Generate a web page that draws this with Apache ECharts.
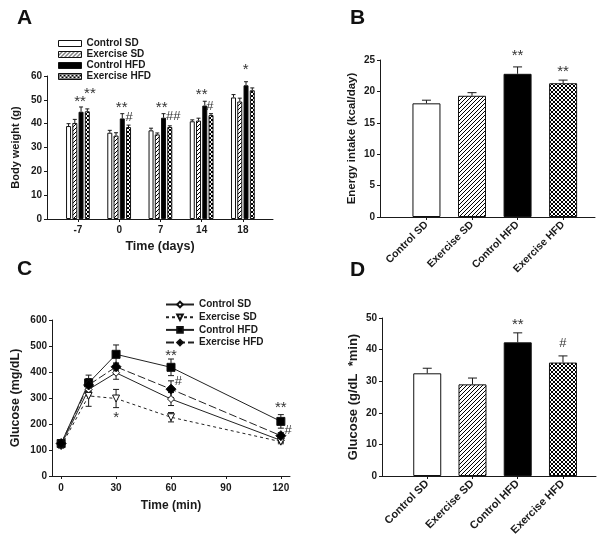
<!DOCTYPE html>
<html>
<head>
<meta charset="utf-8">
<title>Body weight, energy intake and glucose tolerance</title>
<script src="https://cdn.jsdelivr.net/npm/echarts@6/dist/echarts.min.js"></script>
<style>
html, body { margin: 0; padding: 0; background: #fff; }
#main { width: 600px; height: 542px; }
</style>
</head>
<body>
<div id="main"></div>
<script>
// groups
var groups = ['Control SD', 'Exercise SD', 'Control HFD', 'Exercise HFD'];

// A - body weight (g)
var dayLabels = ['-7', '0', '7', '14', '18'];
var bwCtrlSD = [39, 36.2, 37.2, 41, 51];
var bwExSD = [40.3, 35, 35.5, 41.3, 49.3];
var bwCtrlHFD = [45, 42.2, 42.5, 47.6, 56.1];
var bwExHFD = [45.2, 38.6, 38.6, 43.6, 54];
var bwErrCtrlSD = [1, 1, 0.9, 0.6, 1.2];
var bwErrExSD = [1.5, 1.2, 0.6, 1, 1.4];
var bwErrCtrlHFD = [2, 2, 1.7, 1.8, 1.5];
var bwErrExHFD = [1, 0.8, 0.5, 0.6, 1];
var marksA = [[0.05, 50.4, '**'], [0.29, 53.7, '**'], [1.06, 47.8, '**'], [1.24, 42.7, '#'],
              [2.03, 47.8, '**'], [2.31, 42.9, '##'], [3.0, 53.2, '**'], [3.2, 47.1, '#'], [4.07, 63.9, '*']];

// B - energy intake (kcal/day)
var energy = [18.1, 19.3, 22.8, 21.3];
var energyErr = [0.5, 0.5, 1.1, 0.5];
var marksB = [[2, 26.1, '**'], [3, 23.6, '**']];

// C - glucose tolerance (mg/dL)
var times = [0, 15, 30, 60, 120];
var gluCtrlSD = [120, 333, 397, 296, 137];
var gluExSD = [115, 308, 298, 226, 132];
var gluCtrlHFD = [125, 358, 468, 418, 210];
var gluExHFD = [125, 350, 420, 334, 155];
var gluErrCtrlSD = [8, 25, 25, 25, 8];
var gluErrExSD = [8, 40, 35, 18, 8];
var gluErrCtrlHFD = [8, 30, 36, 32, 26];
var gluErrExHFD = [8, 25, 15, 32, 12];
var marksC = [[30, 235, '*'], [60, 475, '**'], [64, 362, '#'], [120, 272, '**'], [124, 176, '#']];
var timeTicks = [0, 30, 60, 90, 120];

// D - glucose AUC (g/dL*min)
var auc = [32.5, 29.0, 42.3, 35.9];
var aucErr = [1.6, 2.0, 3.0, 2.1];
var marksD = [[2, 48.9, '**'], [3, 41.8, '#']];

var FONT = 'Liberation Sans, Arial, sans-serif';
var INK = '#1a1a1a';

// fill patterns
function pattern(kind, size) {
  var c = document.createElement('canvas');
  c.width = c.height = size;
  var g = c.getContext('2d');
  g.fillStyle = '#fff';
  g.fillRect(0, 0, size, size);
  g.strokeStyle = '#000';
  g.lineWidth = 1;
  g.beginPath();
  g.moveTo(0, size); g.lineTo(size, 0);
  g.moveTo(-1, 1); g.lineTo(1, -1);
  g.moveTo(size - 1, size + 1); g.lineTo(size + 1, size - 1);
  if (kind === 'cross') {
    g.moveTo(0, 0); g.lineTo(size, size);
    g.moveTo(size - 1, -1); g.lineTo(size + 1, 1);
    g.moveTo(-1, size - 1); g.lineTo(1, size + 1);
  }
  g.stroke();
  return { image: c, repeat: 'repeat' };
}
var fills = ['#fff', pattern('diag', 4), '#000', pattern('cross', 4)];

function errBar(offset, cap, both) {
  return function (params, api) {
    var x = api.value(0), v = api.value(1), e = api.value(2);
    var hi = api.coord([x, v + e]);
    var lo = both ? api.coord([x, v - e]) : api.coord([x, v]);
    var cx = hi[0] + offset;
    var st = { stroke: INK, lineWidth: 1 };
    var kids = [
      { type: 'line', shape: { x1: cx, y1: lo[1], x2: cx, y2: hi[1] }, style: st },
      { type: 'line', shape: { x1: cx - cap / 2, y1: hi[1], x2: cx + cap / 2, y2: hi[1] }, style: st }
    ];
    if (both) kids.push({ type: 'line', shape: { x1: cx - cap / 2, y1: lo[1], x2: cx + cap / 2, y2: lo[1] }, style: st });
    return { type: 'group', children: kids };
  };
}

function marks(src) {
  return function (params, api) {
    var p = api.coord([api.value(0), api.value(1)]);
    var t = src[params.dataIndex][2];
    var star = t.indexOf('*') >= 0;
    return {
      type: 'text',
      style: {
        text: t, x: p[0], y: p[1] + (star ? 3 : 0),
        textAlign: 'center', textVerticalAlign: 'middle',
        font: (star ? '15px ' : '13px ') + FONT, fill: '#333'
      }
    };
  };
}

function pts(xs, ys, es) {
  return xs.map(function (x, i) { return es ? [x, ys[i], es[i]] : [x, ys[i]]; });
}

var tickLabel = { color: INK, fontFamily: FONT, fontWeight: 'bold', fontSize: 10 };
var nameStyle = { color: INK, fontFamily: FONT, fontWeight: 'bold', fontSize: 12 };
var lineAx = { show: true, onZero: false, lineStyle: { color: INK, width: 1 } };
var tickAx = { show: true, length: 3, lineStyle: { color: INK } };

function valueY(idx, max, step, name, gap, nsize) {
  return {
    type: 'value', gridIndex: idx, min: 0, max: max, interval: step,
    name: name, nameLocation: 'middle', nameGap: gap,
    nameTextStyle: Object.assign({}, nameStyle, { fontSize: nsize }),
    axisLine: lineAx, axisTick: tickAx, splitLine: { show: false },
    axisLabel: Object.assign({ margin: 5 }, tickLabel)
  };
}

var cats = [0, 1, 2, 3];

var option = {
  animation: false,
  backgroundColor: '#fff',
  title: [
    { text: 'A', left: 12, top: 3 },
    { text: 'B', left: 345, top: 3 },
    { text: 'C', left: 12, top: 254 },
    { text: 'D', left: 345, top: 255 }
  ].map(function (t) {
    t.textStyle = { fontFamily: FONT, fontWeight: 'bold', fontSize: 21, color: '#111' };
    return t;
  }),
  legend: [{
    data: groups, orient: 'vertical', left: 58, top: 38, padding: 0, icon: 'rect',
    itemWidth: 23, itemHeight: 6, itemGap: 0,
    itemStyle: { borderColor: '#111', borderWidth: 1 },
    textStyle: { color: INK, fontFamily: FONT, fontWeight: 'bold', fontSize: 10, lineHeight: 11 }
  }, {
    data: groups.map(function (g) { return 'C ' + g; }),
    formatter: function (n) { return n.slice(2); },
    orient: 'vertical', left: 165, top: 299, padding: 0,
    itemWidth: 28, itemHeight: 7, itemGap: 1.7,
    textStyle: { color: INK, fontFamily: FONT, fontWeight: 'bold', fontSize: 10, lineHeight: 11 }
  }],
  grid: [
    { left: 47, top: 76, width: 226, height: 143 },
    { left: 380, top: 60, width: 215, height: 157 },
    { left: 52, top: 320, width: 238, height: 156 },
    { left: 382, top: 318, width: 214, height: 158 }
  ],
  xAxis: [{
    type: 'value', gridIndex: 0, min: -0.75, max: 4.73,
    name: 'Time (days)', nameLocation: 'middle', nameGap: 21,
    nameTextStyle: Object.assign({}, nameStyle, { fontSize: 12.5 }),
    axisLine: lineAx, splitLine: { show: false },
    axisTick: Object.assign({ customValues: [0, 1, 2, 3, 4] }, tickAx),
    axisLabel: Object.assign({ customValues: [0, 1, 2, 3, 4], margin: 6,
      formatter: function (v) { return dayLabels[Math.round(v)]; } }, tickLabel)
  }, {
    type: 'value', gridIndex: 1, min: -1.02, max: 3.7,
    axisLine: lineAx, splitLine: { show: false },
    axisTick: Object.assign({ customValues: cats }, tickAx),
    axisLabel: Object.assign({ customValues: cats, rotate: 45, margin: 6,
      formatter: function (v) { return groups[Math.round(v)]; } }, tickLabel, { fontSize: 10.5 })
  }, {
    type: 'value', gridIndex: 2, min: -5, max: 125,
    name: 'Time (min)', nameLocation: 'middle', nameGap: 24,
    nameTextStyle: nameStyle,
    axisLine: lineAx, splitLine: { show: false },
    axisTick: Object.assign({ customValues: timeTicks }, tickAx),
    axisLabel: Object.assign({ customValues: timeTicks, margin: 7 }, tickLabel)
  }, {
    type: 'value', gridIndex: 3, min: -1, max: 3.73,
    axisLine: lineAx, splitLine: { show: false },
    axisTick: Object.assign({ customValues: cats }, tickAx),
    axisLabel: Object.assign({ customValues: cats, rotate: 45, margin: 6,
      formatter: function (v) { return groups[Math.round(v)]; } }, tickLabel, { fontSize: 11 })
  }],
  yAxis: [
    valueY(0, 60, 10, 'Body weight (g)', 26, 11),
    valueY(1, 25, 5, 'Energy intake (kcal/day)', 22, 11.5),
    valueY(2, 600, 100, 'Glucose (mg/dL)', 30, 12.5),
    valueY(3, 50, 10, 'Glucose (g/dL  *min)', 22, 13)
  ],
  series: []
};

// A bars
var bwVals = [bwCtrlSD, bwExSD, bwCtrlHFD, bwExHFD];
var bwErrs = [bwErrCtrlSD, bwErrExSD, bwErrCtrlHFD, bwErrExHFD];
var idxDays = dayLabels.map(function (d, i) { return i; });
groups.forEach(function (g, k) {
  option.series.push({
    type: 'bar', name: g, xAxisIndex: 0, yAxisIndex: 0,
    barWidth: 5, barGap: '25%',
    itemStyle: { color: fills[k], borderColor: '#111', borderWidth: 1 },
    data: pts(idxDays, bwVals[k])
  });
});
groups.forEach(function (g, k) {
  option.series.push({
    type: 'custom', name: 'errA' + k, xAxisIndex: 0, yAxisIndex: 0,
    renderItem: errBar((k - 1.5) * 6.25, 4, false),
    data: pts(idxDays, bwVals[k], bwErrs[k]), z: 3
  });
});
option.series.push({ type: 'custom', name: 'marksA', xAxisIndex: 0, yAxisIndex: 0,
  renderItem: marks(marksA), data: marksA.map(function (m) { return [m[0], m[1]]; }) });

// B and D bars
[[1, energy, energyErr, marksB], [3, auc, aucErr, marksD]].forEach(function (p) {
  var ax = p[0];
  option.series.push({
    type: 'bar', name: 'bars' + ax, xAxisIndex: ax, yAxisIndex: ax, barWidth: 28,
    data: p[1].map(function (v, i) {
      return { value: [i, v], itemStyle: { color: fills[i], borderColor: '#111', borderWidth: 1 } };
    })
  });
  option.series.push({ type: 'custom', name: 'err' + ax, xAxisIndex: ax, yAxisIndex: ax,
    renderItem: errBar(0, 9, false), data: pts(cats, p[1], p[2]), z: 3 });
  option.series.push({ type: 'custom', name: 'marks' + ax, xAxisIndex: ax, yAxisIndex: ax,
    renderItem: marks(p[3]), data: p[3].map(function (m) { return [m[0], m[1]]; }) });
});

// C lines
var gluVals = [gluCtrlSD, gluExSD, gluCtrlHFD, gluExHFD];
var gluErrs = [gluErrCtrlSD, gluErrExSD, gluErrCtrlHFD, gluErrExHFD];
var lineLook = [
  { symbol: 'diamond', size: 7, fill: '#fff', dash: 'solid' },
  { symbol: 'triangle', size: 7, fill: '#fff', dash: [3, 3], rot: 180 },
  { symbol: 'rect', size: 8, fill: '#000', dash: 'solid' },
  { symbol: 'diamond', size: 10, fill: '#000', dash: [8, 3] }
];
groups.forEach(function (g, k) {
  option.series.push({
    type: 'custom', name: 'errC' + k, xAxisIndex: 2, yAxisIndex: 2,
    renderItem: errBar(0, 6, true), data: pts(times, gluVals[k], gluErrs[k]), z: 1
  });
});
groups.forEach(function (g, k) {
  var L = lineLook[k];
  option.series.push({
    type: 'line', name: 'C ' + g, xAxisIndex: 2, yAxisIndex: 2,
    symbol: L.symbol, symbolSize: L.size, symbolRotate: L.rot || 0, showAllSymbol: true,
    lineStyle: { color: '#222', width: 1, type: L.dash },
    itemStyle: { color: L.fill, borderColor: '#111', borderWidth: 1 },
    data: pts(times, gluVals[k]), z: 2
  });
});
option.series.push({ type: 'custom', name: 'marksC', xAxisIndex: 2, yAxisIndex: 2,
  renderItem: marks(marksC), data: marksC.map(function (m) { return [m[0], m[1]]; }) });

var chart = echarts.init(document.getElementById('main'), null, { renderer: 'canvas' });
chart.setOption(option);
</script>
</body>
</html>
